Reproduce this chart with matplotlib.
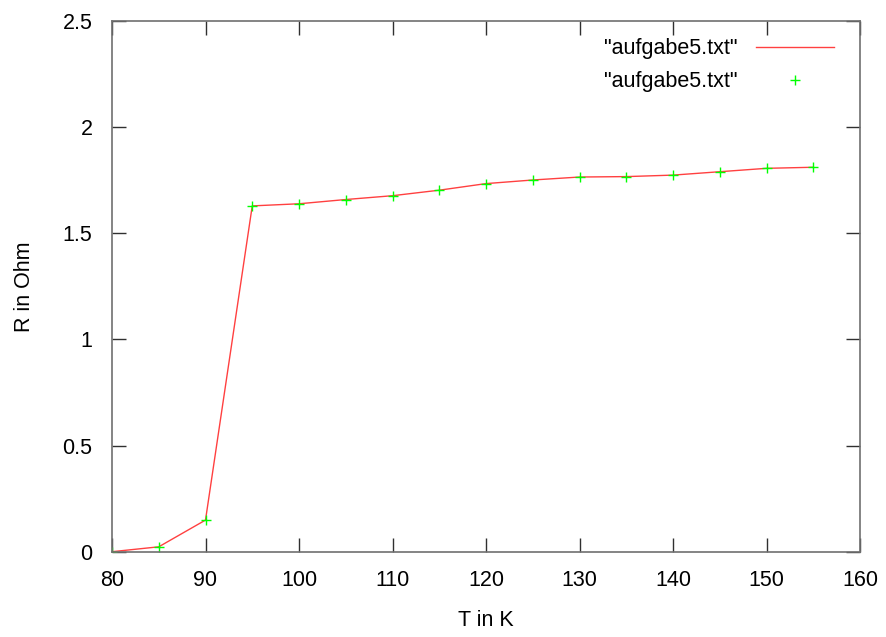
import matplotlib
matplotlib.use("Agg")
import matplotlib.pyplot as plt

# Temperature (K) and measured resistance (Ohm)
temperature = [80, 85, 90, 95, 100, 105, 110, 115, 120, 125, 130, 135, 140, 145, 150, 155]
resistance = [0.0, 0.023, 0.149, 1.629, 1.639, 1.659, 1.677, 1.703, 1.734, 1.751,
              1.765, 1.767, 1.774, 1.790, 1.806, 1.811]

x_ticks = [80, 90, 100, 110, 120, 130, 140, 150, 160]
y_ticks = [0, 0.5, 1, 1.5, 2, 2.5]
y_tick_labels = ["0", "0.5", "1", "1.5", "2", "2.5"]
series_label = '"aufgabe5.txt"'

plt.rcParams["font.family"] = ["Liberation Sans", "DejaVu Sans"]

fig = plt.figure(figsize=(8.86, 6.37), dpi=100)
ax = fig.add_axes([112 / 886, 1 - 551.7 / 637, (860 - 112) / 886, (551.7 - 21) / 637])

ax.plot(temperature, resistance, color="#ff0000", lw=1.0, alpha=0.75, label=series_label)
ax.plot(temperature, resistance, linestyle="none", marker="+", color="#00ff00",
        markersize=7.5, markeredgewidth=1.0, label=series_label)

ax.set_xlim(80, 160)
ax.set_ylim(0, 2.5)
ax.set_xticks(x_ticks)
ax.set_yticks(y_ticks)
ax.set_yticklabels(y_tick_labels)

for s in ax.spines.values():
    s.set_color("#707070")
    s.set_linewidth(1.2)

ax.tick_params(direction="in", length=10, width=1, color="#303030",
               top=True, right=True, labelsize=15.5)
ax.tick_params(axis="x", pad=13.5)
ax.tick_params(axis="y", pad=14)

ax.set_xlabel("T in K", fontsize=15.5, labelpad=13)
ax.set_ylabel("R in Ohm", fontsize=15.5, labelpad=20)

ax.legend(loc="upper right", bbox_to_anchor=(1 - 6 / 748, 1 + 3 / 530.7),
          frameon=False, markerfirst=False, fontsize=15.5,
          handlelength=3.6, handletextpad=0.85, labelspacing=0.55,
          borderaxespad=0.9, borderpad=0.05)

fig.savefig("out.png", dpi=100)
